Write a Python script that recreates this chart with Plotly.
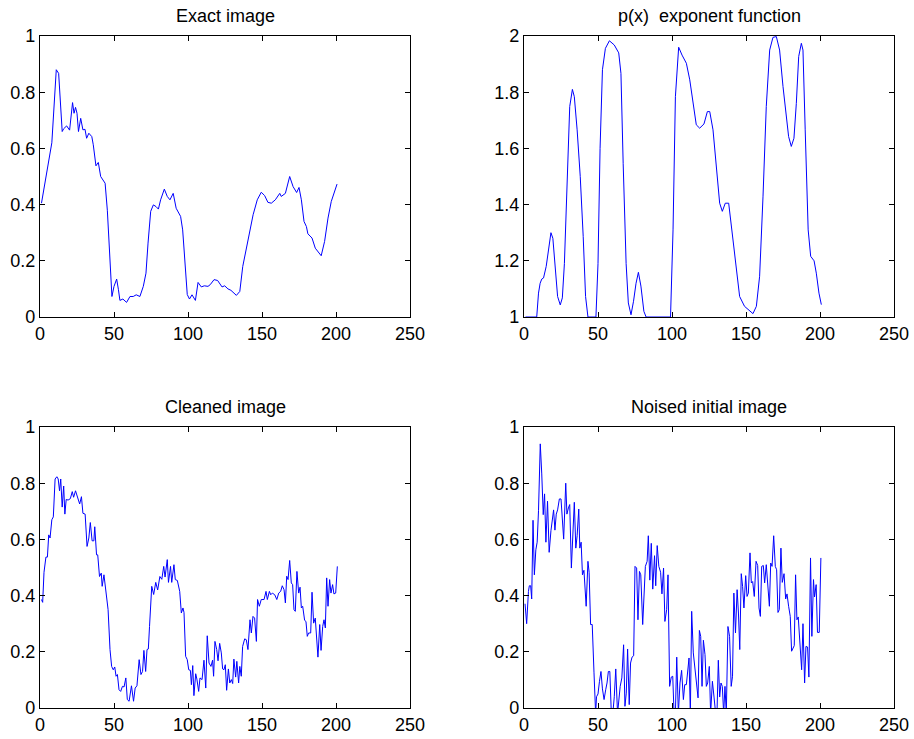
import plotly.graph_objects as go

# ---------------- data ----------------
exact_x = [1, 8, 11, 12.6, 15, 16, 18, 20, 22, 23, 24, 25, 26, 27.5, 29, 30.4, 31.5, 33, 35, 36, 37.8, 39.4,
           41, 42.3, 44, 45.5, 47.3, 48.6, 50, 51.8, 53, 54, 56, 58.5, 60.8, 63, 65, 67.5, 69.8, 71.6, 73,
           74.8, 76.6, 78.4, 80, 81.5, 84, 86, 87.8, 90, 92, 95, 96.4, 98, 99.5, 101, 102.7, 105, 106.8, 109,
           111, 113.5, 115, 117.6, 120, 123, 124.8, 127, 129, 132.7, 135, 137, 140.5, 144, 146.8, 149.5,
           151.8, 154, 156.3, 159, 162, 163, 165.8, 168.7, 171, 173.4, 175, 176.6, 178.4, 180, 181, 183.8,
           186, 187.8, 190, 192.3, 194.6, 196.8, 199, 200.7]
exact_y = [0.405, 0.62, 0.88, 0.867, 0.66, 0.67, 0.68, 0.665, 0.763, 0.725, 0.746, 0.725, 0.66, 0.707, 0.666,
           0.668, 0.636, 0.654, 0.642, 0.613, 0.538, 0.55, 0.5, 0.49, 0.476, 0.38, 0.168, 0.073, 0.109, 0.135,
           0.097, 0.059, 0.064, 0.052, 0.073, 0.073, 0.079, 0.073, 0.109, 0.156, 0.263, 0.376, 0.399, 0.393,
           0.384, 0.417, 0.455, 0.429, 0.417, 0.44, 0.387, 0.358, 0.31, 0.168, 0.08, 0.064, 0.079, 0.059,
           0.123, 0.107, 0.111, 0.109, 0.115, 0.133, 0.13, 0.107, 0.111, 0.1, 0.095, 0.077, 0.091, 0.18, 0.275,
           0.364, 0.417, 0.444, 0.432, 0.408, 0.405, 0.417, 0.44, 0.429, 0.44, 0.5, 0.464, 0.443, 0.461, 0.417,
           0.34, 0.322, 0.296, 0.281, 0.245, 0.233, 0.218, 0.269, 0.352, 0.411, 0.447, 0.473]

px_x = [1, 8.6, 9.8, 10.9, 12, 13.2, 15, 16.6, 18.2, 19.5, 21, 22.7, 24.5, 25.9, 27.3, 29, 30.9, 32.7, 34,
        35.9, 38, 40, 41.6, 43.2, 48.6, 50, 51.4, 53, 55, 57.7, 61, 64, 65.5, 67, 69, 70.5, 72.3, 74, 75.7,
        77.3, 79, 81, 82.5, 99, 100.7, 102.3, 104.5, 106.8, 109.7, 112, 114.2, 116.4, 118.7, 121.6, 123.9,
        125.5, 127.7, 130, 132.2, 134, 136, 138.3, 140.5, 142.8, 145.7, 149, 152.5, 154.7, 157, 159.2,
        161.5, 163.7, 166, 168.2, 170.5, 172.7, 175, 177.2, 178.8, 180.6, 182.4, 184, 185.6, 187.4, 188.5,
        190, 192, 193.7, 196, 197.5, 199.3, 200.9]
px_y = [1.0, 1.0, 1.085, 1.12, 1.135, 1.139, 1.18, 1.25, 1.30, 1.28, 1.168, 1.073, 1.043, 1.068, 1.19,
        1.488, 1.749, 1.81, 1.784, 1.666, 1.5, 1.287, 1.073, 1.0, 1.0, 1.19, 1.6, 1.88, 1.956, 1.983, 1.968,
        1.94, 1.867, 1.547, 1.19, 1.05, 1.008, 1.056, 1.12, 1.159, 1.11, 1.02, 1.0, 1.0, 1.31, 1.784, 1.96,
        1.932, 1.903, 1.844, 1.76, 1.684, 1.672, 1.687, 1.731, 1.731, 1.666, 1.524, 1.405, 1.376, 1.405,
        1.405, 1.31, 1.19, 1.073, 1.038, 1.02, 1.012, 1.038, 1.145, 1.43, 1.749, 1.95, 1.995, 1.998, 1.95,
        1.82, 1.713, 1.642, 1.607, 1.636, 1.76, 1.927, 1.974, 1.95, 1.666, 1.31, 1.216, 1.2, 1.156, 1.085,
        1.044]

clean_x = [1, 1.8, 2.7, 4, 5, 5.9, 6.8, 8, 9, 10.2, 11.4, 12.3, 13.2, 14, 15, 16, 16.8, 17.7, 19, 20.5,
           21.8, 22.7, 24, 25.5, 26.8, 28, 29, 30.5, 31.8, 33, 34, 35.2, 36.4, 37, 38.2, 39, 40.2, 41.4, 42,
           43.2, 44.5, 46, 47.3, 48.4, 49.5, 50.5, 51.4, 52.3, 53.4, 54.5, 55.7, 56.8, 58, 59, 60.2, 61.8,
           63.2, 64.3, 65.5, 67, 68.2, 69.3, 70.2, 71.4, 72.3, 73.2, 74, 75.5, 76.8, 78.2, 79.5, 81, 82.3,
           83.6, 84.5, 86, 86.8, 88.2, 89, 90.5, 91.4, 92.8, 94.4, 95.5, 96.6, 97.3, 98.4, 99.5, 100.5, 101.6,
           102.3, 103.2, 104, 105.2, 106, 107.2, 108.1, 109.5, 110.8, 112, 113, 114.2, 115.5, 116.6, 117.3,
           118.2, 119.4, 120.3, 121.4, 122.5, 123.4, 124.3, 125.2, 126.1, 127.3, 128.2, 129.3, 130.2, 131,
           132.2, 133, 134.2, 135, 136, 136.9, 138.3, 139.4, 140.5, 141.9, 142.8, 143.9, 145, 146.2, 147,
           148.2, 149.5, 151.4, 152.7, 153.6, 155, 155.9, 157, 158.6, 160, 161.3, 162.6, 163.7, 164.9, 165.8,
           166.7, 167.6, 168.7, 169.8, 170.7, 171.6, 172.5, 173.6, 174.8, 175.7, 176.6, 177.5, 178.8, 179.7,
           180.6, 181.5, 182.9, 183.8, 184.9, 186, 186.9, 187.8, 189, 189.9, 191, 191.9, 192.8, 193.7, 194.6,
           195.7, 196.6, 197.7, 198.6, 199.8, 200.9]
clean_y = [0.386, 0.376, 0.483, 0.537, 0.537, 0.616, 0.605, 0.67, 0.68, 0.815, 0.823, 0.815, 0.773, 0.815,
           0.715, 0.79, 0.69, 0.742, 0.74, 0.745, 0.77, 0.75, 0.773, 0.75, 0.726, 0.752, 0.693, 0.69, 0.575,
           0.605, 0.66, 0.595, 0.595, 0.645, 0.545, 0.545, 0.468, 0.48, 0.433, 0.474, 0.41, 0.35, 0.208, 0.148,
           0.136, 0.146, 0.113, 0.119, 0.065, 0.059, 0.077, 0.075, 0.107, 0.03, 0.024, 0.079, 0.024, 0.071,
           0.079, 0.172, 0.119, 0.13, 0.205, 0.13, 0.208, 0.21, 0.29, 0.433, 0.404, 0.447, 0.42, 0.468, 0.458,
           0.504, 0.466, 0.528, 0.447, 0.504, 0.447, 0.51, 0.457, 0.454, 0.415, 0.338, 0.356, 0.34, 0.184,
           0.172, 0.136, 0.134, 0.083, 0.151, 0.044, 0.122, 0.103, 0.059, 0.107, 0.101, 0.17, 0.071, 0.257,
           0.16, 0.148, 0.17, 0.113, 0.237, 0.208, 0.168, 0.23, 0.196, 0.139, 0.136, 0.154, 0.063, 0.139,
           0.089, 0.101, 0.087, 0.174, 0.11, 0.166, 0.089, 0.148, 0.113, 0.219, 0.246, 0.243, 0.208, 0.314,
           0.267, 0.326, 0.32, 0.237, 0.386, 0.362, 0.386, 0.386, 0.415, 0.386, 0.415, 0.403, 0.409, 0.403,
           0.386, 0.409, 0.415, 0.435, 0.421, 0.374, 0.469, 0.457, 0.525, 0.445, 0.439, 0.35, 0.344, 0.486,
           0.409, 0.43, 0.356, 0.362, 0.312, 0.308, 0.255, 0.267, 0.267, 0.412, 0.302, 0.32, 0.255, 0.181,
           0.297, 0.205, 0.29, 0.314, 0.285, 0.463, 0.362, 0.457, 0.409, 0.439, 0.406, 0.409, 0.504]

noise_x = [0.7, 1.8, 3, 3.6, 4.5, 5.2, 6.1, 7, 8, 8.9, 9.8, 11, 12, 13, 13.9, 14.8, 15.9, 17, 18.2, 19, 20,
           20.9, 21.8, 22.7, 23.9, 25, 25.9, 26.8, 28.2, 29, 30, 30.9, 32, 33.2, 34, 35, 35.9, 37, 37.7, 38.6,
           39.5, 40.5, 41.4, 42, 43.2, 44, 45, 46.1, 47.3, 48.4, 49, 50, 51, 52, 53, 54.1, 55.2, 56.1, 57, 58,
           59, 60, 61, 62, 63.2, 64, 65, 66.1, 67.3, 68.2, 69.1, 70, 71.1, 72, 73, 74.1, 75, 76.1, 77, 78,
           78.9, 80.2, 81.1, 82, 83.2, 84, 85, 86, 87, 88.2, 89, 90, 91.1, 92.3, 93.2, 94.3, 95.2, 96.4,
           97.3, 98.4, 99.5, 100.5, 101.4, 102.3, 103.2, 104.3, 105.4, 106.5, 107.7, 108.6, 109.7, 110.8,
           111.5, 112.4, 113.3, 114.4, 115.5, 116.4, 117.6, 118.5, 119.4, 120.3, 121.2, 122.3, 123.2, 124.1,
           125.2, 126.1, 127.3, 128.4, 129.5, 130.4, 131.3, 132.2, 133.1, 134, 134.9, 135.8, 136.7, 137.8,
           138.9, 140, 140.9, 141.8, 142.9, 144, 144.9, 145.8, 146.8, 147.7, 148.6, 149.8, 150.7, 151.6,
           152.7, 153.6, 154.5, 155.6, 156.8, 157.9, 158.8, 159.7, 160.6, 161.7, 162.6, 163.7, 164.6, 165.8,
           166.7, 167.6, 168.7, 169.8, 170.7, 171.6, 172.5, 173.6, 174.5, 175.7, 176.8, 177.7, 178.8, 179.9,
           180.8, 181.9, 182.6, 183.5, 184.4, 185.3, 186.4, 187.6, 188.5, 189.6, 190.5, 191.6, 192.5, 193.6,
           194.5, 195.6, 196.3, 197.4, 198.3, 199.5, 200.6]
noise_y = [0.371, 0.3, 0.415, 0.435, 0.435, 0.388, 0.668, 0.474, 0.563, 0.59, 0.702, 0.94, 0.833, 0.688,
           0.762, 0.59, 0.736, 0.554, 0.631, 0.667, 0.705, 0.633, 0.69, 0.705, 0.744, 0.744, 0.684, 0.601, 0.8,
           0.69, 0.712, 0.724, 0.498, 0.649, 0.732, 0.569, 0.613, 0.708, 0.569, 0.59, 0.474, 0.49, 0.421,
           0.362, 0.522, 0.483, 0.297, 0.297, 0.125, -0.02, 0.04, 0.05, 0.095, 0.13, 0.068, 0.03, 0.065, 0.089,
           0.13, 0.13, -0.02, -0.02, 0.04, 0.139, -0.02, 0.03, 0.077, 0.107, 0.225, 0.006, 0.053, 0.21, 0.012,
           0.16, 0.181, 0.186, 0.504, 0.498, 0.314, 0.486, 0.474, 0.297, 0.421, 0.504, 0.522, 0.613, 0.455,
           0.586, 0.423, 0.542, 0.435, 0.578, 0.504, 0.483, 0.406, 0.498, 0.308, 0.35, 0.474, 0.077, 0.11,
           0.113, -0.02, -0.02, 0.181, -0.02, 0.089, 0.134, 0.03, 0.083, 0.083, 0.136, 0.178, -0.02, 0.344,
           0.196, 0.134, 0.107, 0.036, 0.276, 0.255, 0.077, 0.241, 0.19, 0.077, 0.089, 0.148, -0.02, 0.095,
           0.039, -0.02, -0.02, 0.17, 0.039, 0.089, 0.077, -0.02, 0.077, -0.02, 0.29, 0.255, 0.077, 0.113,
           0.409, 0.267, 0.421, 0.338, 0.208, 0.478, 0.433, 0.356, 0.471, 0.397, 0.409, 0.552, 0.445, 0.45,
           0.397, 0.522, 0.507, 0.356, 0.326, 0.504, 0.507, 0.445, 0.51, 0.445, 0.362, 0.516, 0.504, 0.613,
           0.504, 0.492, 0.34, 0.35, 0.569, 0.447, 0.478, 0.388, 0.406, 0.362, 0.326, 0.202, 0.217, 0.222,
           0.474, 0.314, 0.324, 0.23, 0.136, 0.3, 0.089, 0.219, 0.217, 0.11, 0.534, 0.255, 0.457, 0.395, 0.439,
           0.269, 0.269, 0.534]

titles = ["Exact image", "p(x)  exponent function", "Cleaned image", "Noised initial image"]
x_ticks = [0, 50, 100, 150, 200, 250]
y_ticks_01 = [0, 0.2, 0.4, 0.6, 0.8, 1]
y_labels_01 = ["0", "0.2", "0.4", "0.6", "0.8", "1"]
y_ticks_12 = [1, 1.2, 1.4, 1.6, 1.8, 2]
y_labels_12 = ["1", "1.2", "1.4", "1.6", "1.8", "2"]

# ---------------- figure ----------------
W, H = 914, 739


def xd(a, b):
    return [a / W, b / W]


def yd(top, bottom):
    return [1 - bottom / H, 1 - top / H]


x_dom_left = xd(40, 410)
x_dom_right = xd(524, 894)
y_dom_top = yd(36, 317)
y_dom_bot = yd(427, 708)

fig = go.Figure()
series = [(exact_x, exact_y), (px_x, px_y), (clean_x, clean_y), (noise_x, noise_y)]
doms = [(x_dom_left, y_dom_top), (x_dom_right, y_dom_top), (x_dom_left, y_dom_bot), (x_dom_right, y_dom_bot)]
tick_font = dict(family="Liberation Sans, Arial, Helvetica, sans-serif", size=18, color="black")
title_font = dict(family="Liberation Sans, Arial, Helvetica, sans-serif", size=18, color="black")

layout = {}
for i, ((xs, ys), (xdom, ydom)) in enumerate(zip(series, doms)):
    n = "" if i == 0 else str(i + 1)
    fig.add_trace(go.Scatter(x=xs, y=ys, mode="lines", line=dict(color="#0000ff", width=1),
                             xaxis="x" + n, yaxis="y" + n, showlegend=False, hoverinfo="skip"))
    common = dict(showgrid=False, zeroline=False, showline=True, linecolor="black", linewidth=1.3,
                  mirror="ticks", ticks="inside", ticklen=5, tickcolor="black", tickwidth=1,
                  tickfont=tick_font, automargin=False)
    layout["xaxis" + n] = dict(domain=xdom, range=[0, 250], tickvals=x_ticks,
                               ticktext=[str(t) for t in x_ticks], anchor="y" + n, **common)
    if i == 1:
        yr, yt, yl = [1, 2], y_ticks_12, y_labels_12
    else:
        yr, yt, yl = [0, 1], y_ticks_01, y_labels_01
    layout["yaxis" + n] = dict(domain=ydom, range=yr, tickvals=yt, ticktext=yl, anchor="x" + n, **common)
    fig.add_annotation(text=titles[i], xref="paper", yref="paper",
                       x=(xdom[0] + xdom[1]) / 2, y=ydom[1] + 20 / H, xanchor="center", yanchor="middle",
                       showarrow=False, font=title_font)

fig.update_layout(**layout)
fig.update_layout(width=W, height=H, margin=dict(l=0, r=0, t=0, b=0, pad=0, autoexpand=False),
                  paper_bgcolor="white", plot_bgcolor="white", font=tick_font)
fig.write_html("out.html", config={"displayModeBar": False},
               post_script="document.body.style.margin='0';document.body.style.overflow='hidden';")
